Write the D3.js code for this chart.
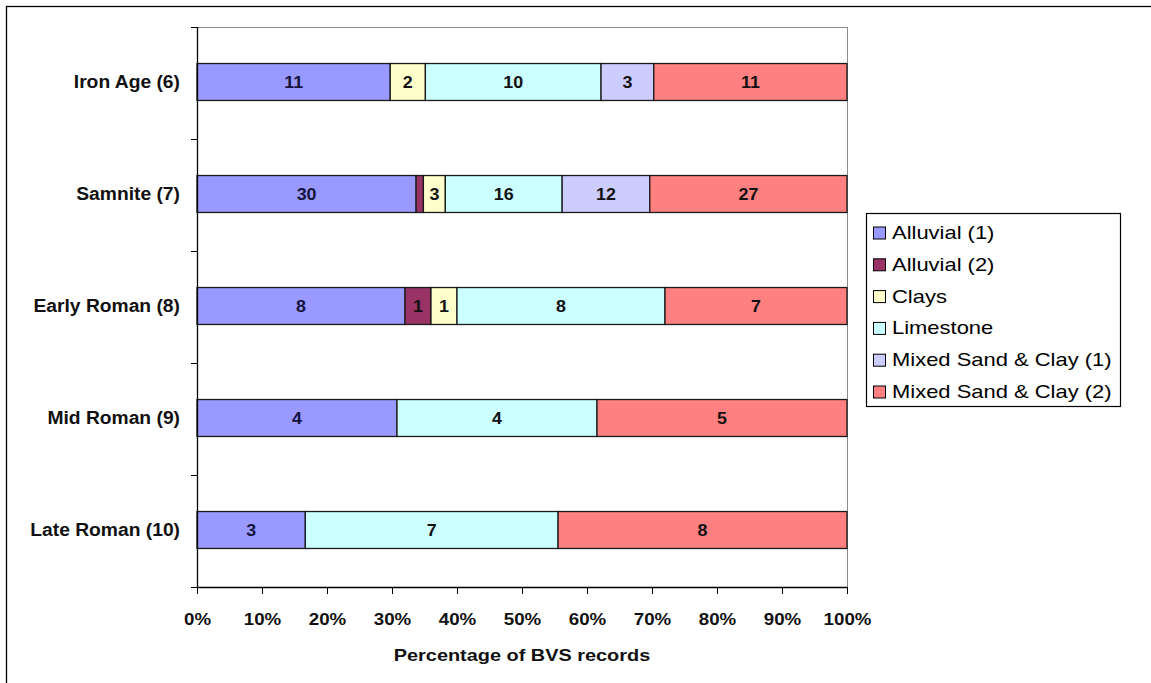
<!DOCTYPE html>
<html><head><meta charset="utf-8">
<script src="https://cdn.jsdelivr.net/npm/d3@7"></script>
<style>html,body{margin:0;padding:0;background:#fff;} svg{display:block;}</style>
</head><body>
<svg id="chart" width="1151" height="683"></svg>
<script>
// ---------------- data ----------------
const categories = ["Iron Age (6)", "Samnite (7)", "Early Roman (8)", "Mid Roman (9)", "Late Roman (10)"];
const seriesNames = ["Alluvial (1)", "Alluvial (2)", "Clays", "Limestone", "Mixed Sand & Clay (1)", "Mixed Sand & Clay (2)"];
const alluvial1      = [11, 30, 8, 4, 3];
const alluvial2      = [0, 1, 1, 0, 0];
const clays          = [2, 3, 1, 0, 0];
const limestone      = [10, 16, 8, 4, 7];
const mixedSandClay1 = [3, 12, 0, 0, 0];
const mixedSandClay2 = [11, 27, 7, 5, 8];
const xTickValues = [0, 0.1, 0.2, 0.3, 0.4, 0.5, 0.6, 0.7, 0.8, 0.9, 1];
const xTickLabels = ["0%", "10%", "20%", "30%", "40%", "50%", "60%", "70%", "80%", "90%", "100%"];
const xAxisTitle = "Percentage of BVS records";
const seriesColors = ["#9999FF", "#993366", "#FFFFCC", "#CCFFFF", "#CCCCFF", "#FF8080"];

const seriesValues = [alluvial1, alluvial2, clays, limestone, mixedSandClay1, mixedSandClay2];
const rows = categories.map((c, i) => {
  const r = { cat: c };
  seriesNames.forEach((s, j) => { r[s] = seriesValues[j][i]; });
  return r;
});

// ---------------- layout ----------------
const FONT = "'Liberation Sans', Arial, Helvetica, sans-serif";
const svg = d3.select("#chart");
const plot = { left: 197, right: 847, top: 27, bottom: 587 };

// outer chart border
svg.append("rect").attr("x", 6.5).attr("y", 6.5).attr("width", 1150).attr("height", 700)
  .attr("fill", "#fff").attr("stroke", "#000").attr("stroke-width", 1.3);

const x = d3.scaleLinear().domain([0, 1]).range([plot.left, plot.right]);
const yBound = d3.scaleBand().domain(categories).range([plot.top, plot.bottom]);
const y = d3.scaleBand().domain(categories).range([plot.top - 1, plot.bottom - 1])
  .paddingInner(0.67).paddingOuter(0.335);

const color = d3.scaleOrdinal().domain(seriesNames).range(seriesColors);

// plot frame (top & right thin gray)
svg.append("line").attr("x1", plot.left).attr("x2", plot.right).attr("y1", plot.top + 0.5).attr("y2", plot.top + 0.5)
  .attr("stroke", "#8c8c8c").attr("stroke-width", 1);
svg.append("line").attr("x1", plot.right + 0.5).attr("x2", plot.right + 0.5).attr("y1", plot.top).attr("y2", plot.bottom)
  .attr("stroke", "#8c8c8c").attr("stroke-width", 1);

// stacked bars
const stack = d3.stack().keys(seriesNames).offset(d3.stackOffsetExpand);
const stacked = stack(rows);

const gBars = svg.append("g");
stacked.forEach(layer => {
  const g = gBars.append("g").attr("fill", color(layer.key));
  const segs = layer.filter(d => d.data[layer.key] > 0);
  g.selectAll("rect").data(segs).enter().append("rect")
    .attr("x", d => x(d[0]))
    .attr("y", d => y(d.data.cat))
    .attr("width", d => x(d[1]) - x(d[0]))
    .attr("height", y.bandwidth())
    .attr("stroke", "#1a1a1a").attr("stroke-width", 1.3);
  g.selectAll("text").data(segs.filter(d => x(d[1]) - x(d[0]) > 12)).enter().append("text")
    .attr("transform", d => `translate(${(x(d[0]) + x(d[1])) / 2},${y(d.data.cat) + y.bandwidth() / 2}) scale(1.05,1)`)
    .attr("text-anchor", "middle").attr("dy", "0.36em")
    .attr("font-family", FONT).attr("font-weight", "bold").attr("font-size", 17)
    .attr("fill", layer.key === seriesNames[0] ? "#14143c" : "#111")
    .text(d => d.data[layer.key]);
});

// y axis: line, boundary ticks, category labels
svg.append("line").attr("x1", plot.left + 0.5).attr("x2", plot.left + 0.5).attr("y1", plot.top).attr("y2", plot.bottom + 0.5)
  .attr("stroke", "#000").attr("stroke-width", 1.3);
const bounds = categories.map(c => yBound(c)).concat([yBound(categories[categories.length - 1]) + yBound.bandwidth()]);
svg.append("g").selectAll("line").data(bounds).enter().append("line")
  .attr("x1", plot.left - 6).attr("x2", plot.left).attr("y1", d => Math.round(d) + 0.5).attr("y2", d => Math.round(d) + 0.5)
  .attr("stroke", "#000").attr("stroke-width", 1);
svg.append("g").selectAll("text").data(categories).enter().append("text")
  .attr("transform", d => `translate(180,${y(d) + y.bandwidth() / 2}) scale(1.07,1)`)
  .attr("text-anchor", "end").attr("dy", "0.36em")
  .attr("font-family", FONT).attr("font-weight", "bold").attr("font-size", 18).attr("fill", "#111")
  .text(d => d);

// x axis
const xAxis = d3.axisBottom(x).tickValues(xTickValues).tickFormat((d, i) => xTickLabels[i])
  .tickSize(7).tickSizeOuter(0).tickPadding(19);
const gx = svg.append("g").attr("transform", `translate(0,${plot.bottom})`).call(xAxis);
gx.select(".domain").attr("stroke", "#000").attr("stroke-width", 1.3);
gx.selectAll(".tick line").attr("stroke", "#000");
gx.selectAll(".tick text").attr("font-family", FONT).attr("font-weight", "bold").attr("font-size", 17)
  .attr("fill", "#111").attr("transform", "scale(1.1,1)");

// x axis title
svg.append("text").attr("transform", `translate(${(plot.left + plot.right) / 2},661) scale(1.17,1)`)
  .attr("text-anchor", "middle").attr("font-family", FONT).attr("font-weight", "bold").attr("font-size", 17)
  .attr("fill", "#111").text(xAxisTitle);

// legend
const lg = { x: 866, y: 213, w: 254, h: 193, first: 232.5, step: 31.8 };
svg.append("rect").attr("x", lg.x + 0.5).attr("y", lg.y + 0.5).attr("width", lg.w).attr("height", lg.h)
  .attr("fill", "#fff").attr("stroke", "#000").attr("stroke-width", 1.2);
const items = svg.append("g").selectAll("g").data(seriesNames).enter().append("g")
  .attr("transform", (d, i) => `translate(${lg.x},${lg.first + i * lg.step})`);
items.append("rect").attr("x", 7.5).attr("y", -5.5).attr("width", 12).attr("height", 12)
  .attr("fill", d => color(d)).attr("stroke", "#000").attr("stroke-width", 1);
items.append("text").attr("transform", "translate(26,0) scale(1.22,1)").attr("dy", "0.36em")
  .attr("font-family", FONT).attr("font-size", 18).attr("fill", "#000").text(d => d);
</script>
</body></html>
